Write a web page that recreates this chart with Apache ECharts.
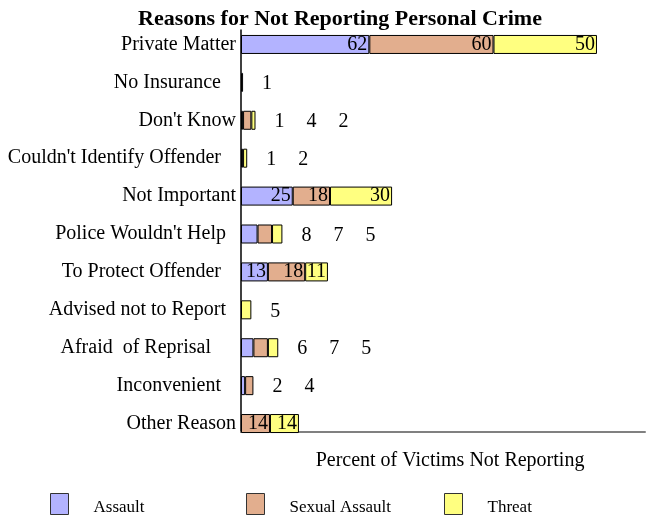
<!DOCTYPE html>
<html>
<head>
<meta charset="utf-8">
<script src="https://cdn.jsdelivr.net/npm/echarts@6/dist/echarts.min.js"></script>
<style>
  html, body { margin: 0; padding: 0; background: #fff; }
  #chart { width: 647px; height: 517px; }
</style>
</head>
<body>
<div id="chart"></div>
<script>
// Reasons given by victims for not reporting, percent by crime type
const categories = [
  'Private Matter', 'No Insurance   ', "Don't Know", "Couldn't Identify Offender   ",
  'Not Important', "Police Wouldn't Help  ", 'To Protect Offender   ',
  'Advised not to Report  ', 'Afraid  of Reprisal     ', 'Inconvenient   ', 'Other Reason'
];
const assault       = [62, 1, 1, 1, 25, 8, 13, null, 6, 2, null];
const sexualAssault = [60, null, 4, null, 18, 7, 18, null, 7, 4, 14];
const threat        = [50, null, 2, 2, 30, 5, 11, 5, 5, null, 14];

const seriesNames = ['Assault', 'Sexual Assault', 'Threat'];
const seriesValues = [assault, sexualAssault, threat];
const seriesColors = ['#b3b3ff', '#e2ae8e', '#ffff80'];

const FONT = '"Liberation Serif", "Times New Roman", serif';
const X_MAX = 195.2;

// A row gets its numbers inside the segments when every segment is wide enough;
// otherwise all of the row's numbers are listed after the end of the bar.
function rowValues(i) {
  return seriesValues.map(s => s[i]).filter(v => v != null && v !== 0);
}
function rowInside(i) {
  return rowValues(i).every(v => v >= 10);
}
function lastSeriesOfRow(i) {
  let last = -1;
  seriesValues.forEach((s, k) => { if (s[i] != null && s[i] !== 0) last = k; });
  return last;
}

function buildData(k) {
  return seriesValues[k].map((v, i) => {
    if (v == null) return '-';
    if (rowInside(i)) {
      return {
        value: v,
        label: {
          show: true, position: 'insideRight', distance: 2,
          padding: [3, 0, 0, 0],
          formatter: String(v)
        }
      };
    }
    if (lastSeriesOfRow(i) === k) {
      const txt = rowValues(i).map(n => '{n|' + n + '}').join('');
      return {
        value: v,
        label: {
          show: true, position: 'right', distance: 8,
          padding: [3, 0, 0, 0],
          formatter: txt,
          rich: { n: { width: 32, align: 'center', fontSize: 20, fontFamily: FONT, color: '#000' } }
        }
      };
    }
    return { value: v, label: { show: false } };
  });
}

const series = seriesNames.map((name, k) => ({
  name: name,
  type: 'bar',
  stack: 'total',
  xAxisIndex: 0,
  yAxisIndex: 0,
  barWidth: 19,
  itemStyle: { color: seriesColors[k], borderColor: '#000', borderWidth: 1 },
  label: {
    color: '#000', fontSize: 20, fontFamily: FONT,
    textBorderWidth: 0, textShadowBlur: 0
  },
  emphasis: { disabled: true },
  data: buildData(k)
}));

// Legend entries: the name is nudged down a little relative to its swatch
const legendTextStyle = {
  fontFamily: FONT, fontSize: 17, color: '#000',
  rich: { t: { fontFamily: FONT, fontSize: 17, color: '#000', padding: [7, 0, 0, 20] } }
};
function legendFor(name, left) {
  return {
    data: [name], left: left, top: 493, padding: 0, orient: 'horizontal',
    icon: 'rect', itemWidth: 18, itemHeight: 21,
    itemStyle: { borderColor: '#333', borderWidth: 1 },
    formatter: n => '{t|' + n + '}',
    textStyle: legendTextStyle, selectedMode: false
  };
}

const chart = echarts.init(document.getElementById('chart'), null, { renderer: 'canvas' });
chart.setOption({
  animation: false,
  backgroundColor: '#fff',
  graphic: [{
    type: 'text', x: 340, y: 19,
    style: {
      text: 'Reasons for Not Reporting Personal Crime',
      fontFamily: FONT, fontWeight: 'bold', fontSize: 22, fill: '#000',
      align: 'center', verticalAlign: 'middle'
    }
  }],
  legend: [
    legendFor('Assault', 50),
    legendFor('Sexual Assault', 246),
    legendFor('Threat', 444)
  ],
  grid: [
    { left: 241, right: 2, top: 25.5, bottom: 74.5 },
    { left: 241, right: 2, top: 30, bottom: 85 }
  ],
  xAxis: [
    { gridIndex: 0, type: 'value', min: 0, max: X_MAX, show: false },
    {
      gridIndex: 1, type: 'value', min: 0, max: X_MAX,
      axisLine: { show: true, lineStyle: { color: '#808080', width: 2 } },
      axisTick: { show: false }, axisLabel: { show: false }, splitLine: { show: false },
      name: 'Percent of Victims Not Reporting',
      nameLocation: 'middle', nameGap: 19,
      nameTextStyle: { fontFamily: FONT, fontSize: 20, color: '#000', padding: [0, 0, 0, 14] }
    }
  ],
  yAxis: [
    {
      gridIndex: 0, type: 'category', inverse: true, data: categories,
      axisLine: { show: false }, axisTick: { show: false }, splitLine: { show: false },
      axisLabel: { fontFamily: FONT, fontSize: 20, color: '#000', margin: 5, padding: [3, 0, 0, 0] }
    },
    {
      gridIndex: 1, type: 'value', min: 0, max: 1,
      axisLine: { show: true, lineStyle: { color: '#000', width: 1.5 } },
      axisTick: { show: false }, axisLabel: { show: false }, splitLine: { show: false }
    }
  ],
  series: series
});
</script>
</body>
</html>
